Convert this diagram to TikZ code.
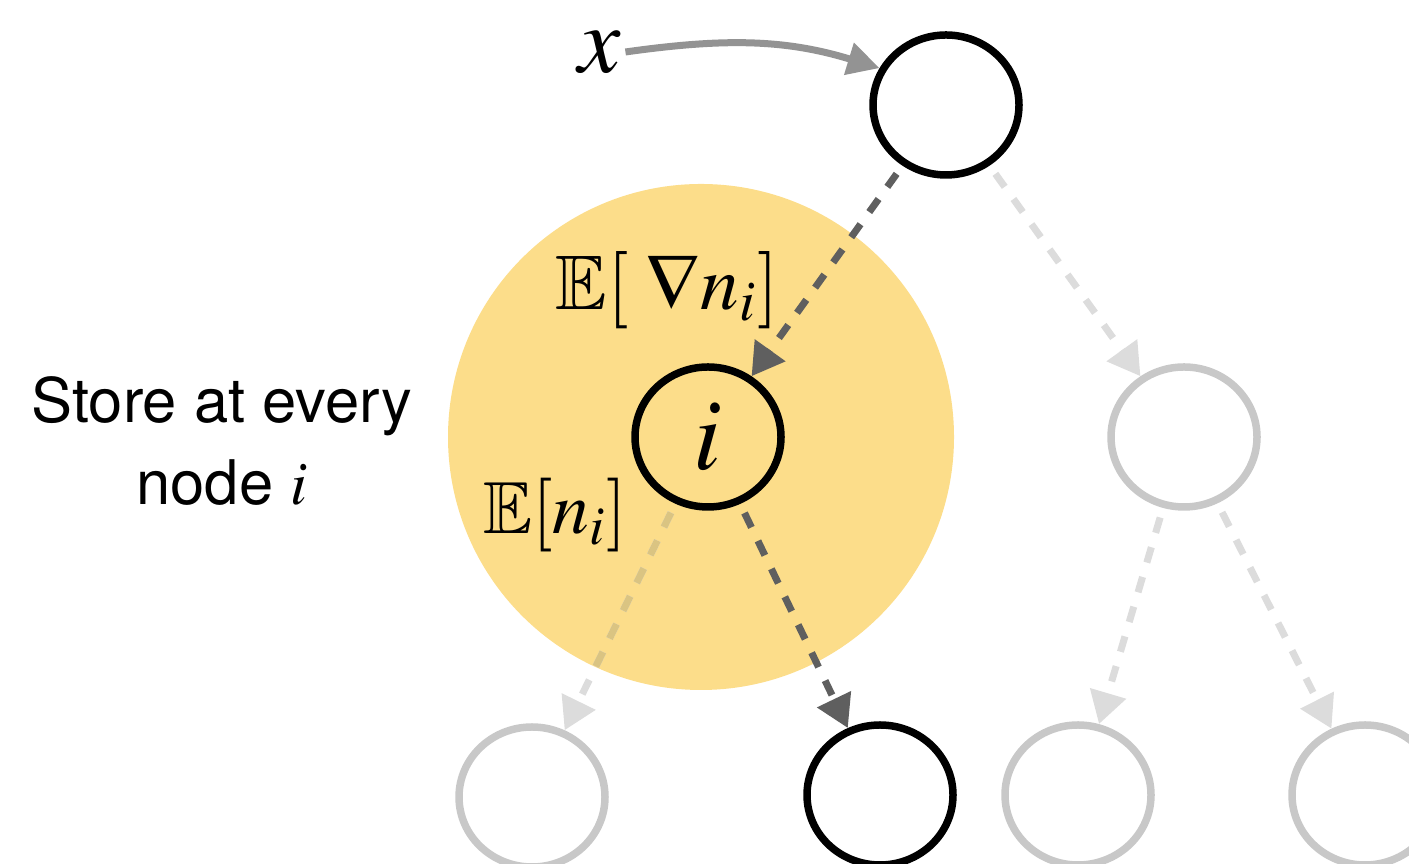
\documentclass[tikz,border=0pt]{standalone}
\usepackage{mathptmx}
\usepackage{amssymb}
\usepackage{fontspec}
\newfontfamily\storefont{TeX Gyre Heros}
\usetikzlibrary{arrows.meta,shapes.geometric}
\definecolor{storeyellow}{RGB}{252,221,138}
\definecolor{hotgray}{RGB}{95,95,95}
\definecolor{coldgray}{RGB}{220,220,220}
\definecolor{nodegray}{RGB}{200,200,200}
\definecolor{tangray}{RGB}{218,196,130}
\definecolor{inputgray}{RGB}{147,147,147}
\begin{document}
\begin{tikzpicture}[
  treenode/.style={ellipse,draw=black,line width=0.075cm,
    minimum width=1.46cm,minimum height=1.40cm,inner sep=0pt},
  fadednode/.style={treenode,draw=nodegray},
  hotedge/.style={draw=hotgray,line width=0.07cm,
    dash pattern=on 0.16cm off 0.15cm,shorten <=0.1cm,
    -{Triangle[length=0.32cm,width=0.36cm]}},
  coldedge/.style={hotedge,draw=coldgray}]
  \clip (0,0) rectangle (14.09,8.64);
  % highlighted region round node i
  \fill[storeyellow] (7.01,4.27) circle (2.53);
  % tree nodes
  \node[treenode] (top) at (9.46,7.59) {};
  \node[treenode] (i) at (7.08,4.27) {\fontsize{29}{34}\selectfont$i$};
  \node[fadednode] (rmid) at (11.84,4.27) {};
  \node[fadednode] (bl) at (5.32,0.67) {};
  \node[treenode] (bm) at (8.80,0.69) {};
  \node[fadednode] (br) at (10.78,0.69) {};
  \node[fadednode] (bfar) at (13.65,0.69) {};
  % edges
  \draw[hotedge] (top) -- (i);
  \draw[coldedge] (top) -- (rmid);
  \draw[coldedge] (i) -- (bl);
  \begin{scope}
    \clip (7.01,4.27) circle (2.53);
    \draw[coldedge,draw=tangray] (i) -- (bl);
  \end{scope}
  \draw[hotedge] (i) -- (bm);
  \draw[coldedge] (rmid) -- (br);
  \draw[coldedge] (rmid) -- (bfar);
  % input
  \node[inner sep=1pt] (xin) at (6.00,8.12) {\fontsize{27}{32}\selectfont$x$};
  \draw[draw=inputgray,line width=0.07cm,-{Triangle[length=0.32cm,width=0.32cm]}]
    (xin.east) to[out=8,in=163] (top.151);
  % labels
  \node (gradlab) at (6.67,5.74) {\fontsize{22}{26}\selectfont$\mathbb{E}[\;\nabla n_i]$};
  \node (meanlab) at (5.55,3.49) {\fontsize{21}{25}\selectfont$\mathbb{E}[n_i]$};
  \node[align=center,font=\storefont\fontsize{17.5}{23.5}\selectfont] (store) at (2.22,4.23)
    {Store at every\\node $i$};
\end{tikzpicture}
\end{document}
